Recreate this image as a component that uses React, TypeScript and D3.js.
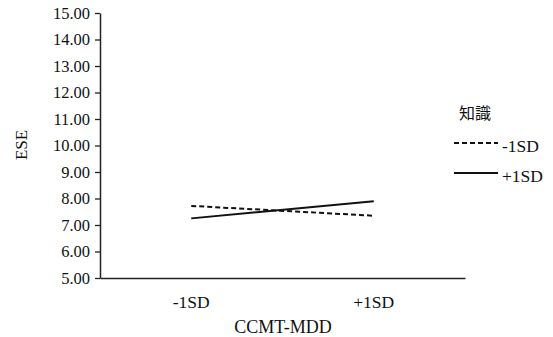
import React, { useEffect, useRef } from "react"
import * as d3 from "d3"

const categories = ["-1SD", "+1SD"]
const yTicks = [5, 6, 7, 8, 9, 10, 11, 12, 13, 14, 15]
const lowKnowledge = [7.72, 7.35]
const highKnowledge = [7.25, 7.9]
const seriesNames = ["-1SD", "+1SD"]
const legendTitle = "知識"

const serif = "'Liberation Serif', 'Times New Roman', serif"

export default function App() {
  const ref = useRef<SVGSVGElement>(null)

  useEffect(() => {
    const svg = d3.select(ref.current)
    svg.selectAll("*").remove()

    const x = d3.scaleBand().domain(categories).range([100, 465])
    const y = d3.scaleLinear().domain([5, 15]).range([278, 13])

    // y axis
    const yAxis = d3.axisLeft(y).tickValues(yTicks).tickSize(5).tickSizeOuter(0).tickFormat(d3.format(".2f"))
    const gy = svg.append("g").attr("transform", "translate(100,0)").call(yAxis)
      .attr("font-family", serif).attr("font-size", 16)
    gy.select(".domain").attr("stroke", "#222").attr("stroke-width", 1.5)
    gy.selectAll(".tick line").attr("stroke", "#222").attr("stroke-width", 1.3)
    gy.selectAll(".tick text")
      .style("font-family", serif)
      .style("font-size", "16.5px")
      .attr("fill", "#111")
      .attr("x", -10)

    // x axis
    const gx = svg.append("g").attr("transform", "translate(0,278)")
      .call(d3.axisBottom(x).tickSize(0).tickSizeOuter(0))
      .attr("font-family", serif).attr("font-size", 17)
    gx.select(".domain").attr("stroke", "#222").attr("stroke-width", 1.5)
    gx.selectAll(".tick text")
      .style("font-family", serif)
      .style("font-size", "17.5px")
      .attr("fill", "#111")
      .attr("y", 18)

    // axis titles
    svg.append("text")
      .attr("x", 283).attr("y", 333)
      .attr("text-anchor", "middle")
      .style("font-family", serif).style("font-size", "18px").attr("fill", "#111")
      .text("CCMT-MDD")
    svg.append("text")
      .attr("transform", "translate(27,145) rotate(-90)")
      .attr("text-anchor", "middle")
      .style("font-family", serif).style("font-size", "17px").attr("fill", "#111")
      .text("ESE")

    // lines
    const line = d3.line<number>()
      .x((_, i) => (x(categories[i]) as number) + x.bandwidth() / 2)
      .y(d => y(d))

    const series = [
      { values: lowKnowledge, dash: "5,3" },
      { values: highKnowledge, dash: null },
    ]
    svg.append("g").selectAll("path").data(series).enter().append("path")
      .attr("d", d => line(d.values))
      .attr("fill", "none")
      .attr("stroke", "#111")
      .attr("stroke-width", 2)
      .attr("stroke-dasharray", d => d.dash)

    // legend
    svg.append("text")
      .attr("x", 459).attr("y", 119)
      .style("font-family", "'Noto Sans CJK JP', sans-serif").style("font-size", "16px").attr("fill", "#111")
      .text(legendTitle)
    const lg = svg.append("g").selectAll("g").data(series).enter().append("g")
      .attr("transform", (_, i) => `translate(0,${147 + i * 30})`)
    lg.append("line")
      .attr("x1", 454).attr("x2", 498).attr("y1", -4).attr("y2", -4)
      .attr("stroke", "#111").attr("stroke-width", 2)
      .attr("stroke-dasharray", d => d.dash)
    lg.append("text")
      .attr("x", 502).attr("y", 5)
      .style("font-family", serif).style("font-size", "17.5px").attr("fill", "#111")
      .text((_, i) => seriesNames[i])
  }, [])

  return (
    <svg ref={ref} width={553} height={337}
      style={{ position: "absolute", left: 0, top: 0, background: "#fff" }} />
  )
}
